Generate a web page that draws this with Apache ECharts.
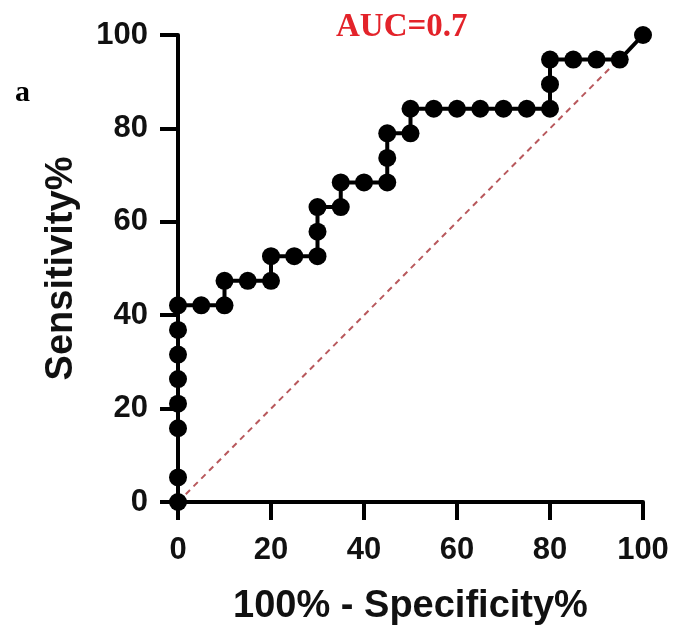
<!DOCTYPE html>
<html>
<head>
<meta charset="utf-8">
<script src="https://cdn.jsdelivr.net/npm/echarts@6/dist/echarts.min.js"></script>
<style>
html,body{margin:0;padding:0;background:#fff;}
#chart{width:688px;height:638px;}
</style>
</head>
<body>
<div id="chart"></div>
<script>
// 100% - Specificity% (x) and Sensitivity% (y) of the ROC curve
var specX = [0,0,0,0,0,0,0,0,5,10,10,15,20,20,25,30,30,30,35,35,40,45,45,45,50,50,55,60,65,70,75,80,80,80,85,90,95,100];
var sensY = [0,5.26,15.79,21.05,26.32,31.58,36.84,42.11,42.11,42.11,47.37,47.37,47.37,52.63,52.63,52.63,57.89,63.16,63.16,68.42,68.42,68.42,73.68,78.95,78.95,84.21,84.21,84.21,84.21,84.21,84.21,84.21,89.47,94.74,94.74,94.74,94.74,100];
var refX = [0,100];
var refY = [0,100];
var tickValues = [0,20,40,60,80,100];
var aucText = 'AUC=0.7';
var panelLabel = 'a';
var xName = '100% - Specificity%';
var yName = 'Sensitivity%';

var roc = specX.map(function(x,i){return [x,sensY[i]];});
var ref = refX.map(function(x,i){return [x,refY[i]];});

var chart = echarts.init(document.getElementById('chart'));
var axisFont = {fontFamily:'Liberation Sans, Arial, sans-serif', fontWeight:'bold', color:'#111'};
function axisCommon(name, nameGap, labelMargin){
  return {
    type:'value', min:0, max:100, interval:20,
    name:name, nameLocation:'middle', nameGap:nameGap,
    nameTextStyle:Object.assign({fontSize:38}, axisFont),
    axisLine:{show:true, onZero:false, lineStyle:{color:'#000', width:4}},
    axisTick:{show:true, inside:false, length:18, lineStyle:{color:'#000', width:4}},
    axisLabel:Object.assign({fontSize:31, margin:labelMargin, formatter:function(v){return tickValues.indexOf(v)>=0?String(v):'';}}, axisFont),
    splitLine:{show:false}
  };
}
var option = {
  animation:false,
  backgroundColor:'#fff',
  title:[
    {text:aucText, left:331, top:6, textStyle:{fontFamily:'Liberation Serif, Times New Roman, serif', fontWeight:'bold', fontSize:33, color:'#e3232a'}},
    {text:panelLabel, left:10, top:73, textStyle:{fontFamily:'Liberation Serif, Times New Roman, serif', fontWeight:'bold', fontSize:30, color:'#000'}}
  ],
  grid:{left:178, right:45, top:35, bottom:136, containLabel:false},
  xAxis:axisCommon(xName, 86, 33),
  yAxis:axisCommon(yName, 97, 30),
  series:[
    {type:'line', data:ref, symbol:'none', z:1, clip:false,
     lineStyle:{color:'#b8585c', width:2, type:[6,5]}},
    {type:'line', data:roc, symbol:'circle', symbolSize:18, z:2, clip:false,
     itemStyle:{color:'#000'}, lineStyle:{color:'#000', width:4}}
  ]
};
chart.setOption(option);
</script>
</body>
</html>
